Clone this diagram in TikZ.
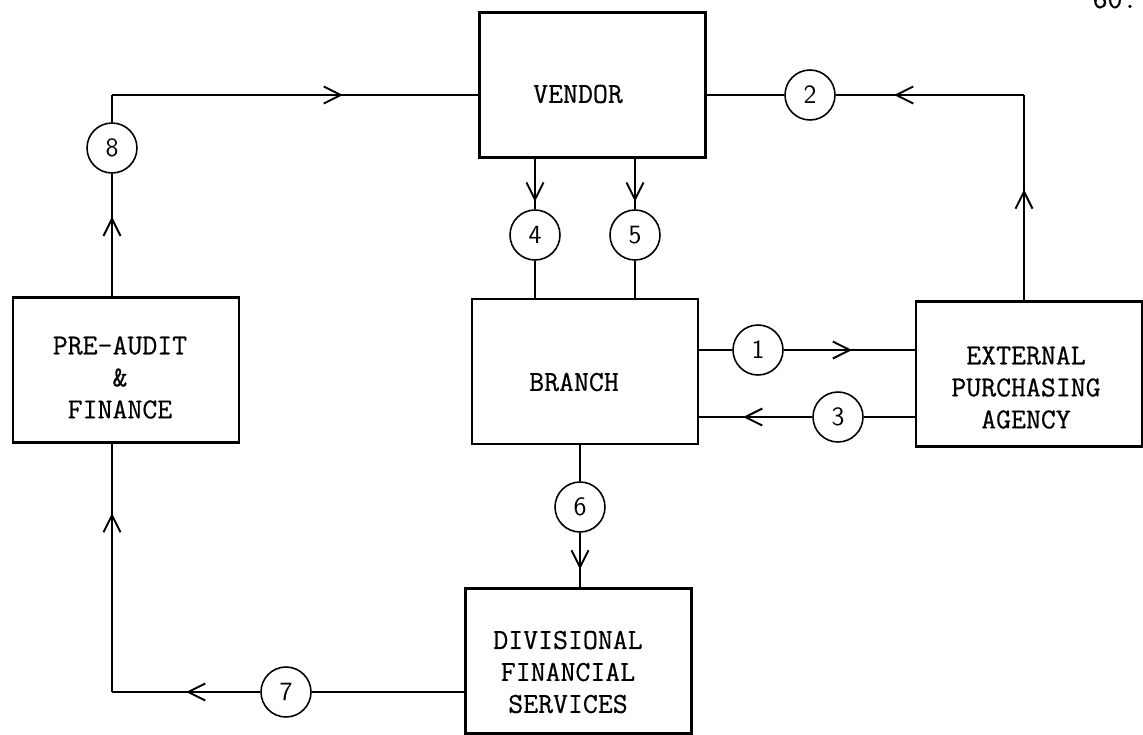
\documentclass[tikz,border=0pt]{standalone}
\usepackage{fontspec}
\usepackage{tikz}
\usetikzlibrary{arrows.meta,decorations.markings}
\newfontfamily\typewr{Latin Modern Mono}[FakeBold=0.6]
\newcommand{\boxfont}{\typewr\fontsize{16.5}{18.2}\selectfont}
\tikzset{
  blk/.style={draw=black, line width=1.2pt, minimum width=4.52cm,
    minimum height=2.9cm, inner sep=0pt}}

\begin{document}
\begin{tikzpicture}[x=0.02cm, y=-0.02cm,
      num/.style={circle, draw=black, line width=0.9pt, minimum size=1cm,
        inner sep=0pt, font=\sffamily\fontsize{15}{18}\selectfont},
      lbl/.style={font=\boxfont, align=center, inner sep=0pt},
      flow/.style={line width=1.1pt, black},
      midtip/.style={postaction={decorate, decoration={markings,
        mark=at position #1 with {\arrow{Straight Barb[length=3.4mm, width=3.4mm]}}}}}]
      \useasboundingbox (0,0) rectangle (1143,734);
      \node[blk] (vendor) at (592.5, 85) {};
      \node[blk] (branch) at (585, 371.5) {};
      \node[blk] (preaudit) at (126, 370) {};
      \node[blk] (epa) at (1029, 374) {};
      \node[blk] (dfs) at (578.5, 661) {};
      \node[lbl] (vendor-txt) at (578, 94) {VENDOR};
      \node[lbl] (branch-txt) at (574, 382) {BRANCH};
      \node[lbl] (preaudit-txt) at (120, 377.5) {PRE-AUDIT\\ \&\\ FINANCE};
      \node[lbl] (epa-txt) at (1026, 387.5) {EXTERNAL\\ PURCHASING\\ AGENCY};
      \node[lbl] (dfs-txt) at (568, 672) {DIVISIONAL\\ FINANCIAL\\ SERVICES};
      \node[lbl, anchor=base] (pagenum) at (1115, 8) {60.};
      \node[num] (c1) at (758, 350) {1};
      \node[num] (c2) at (810, 95) {2};
      \node[num] (c3) at (838, 417) {3};
      \node[num] (c4) at (535, 235) {4};
      \node[num] (c5) at (635, 235) {5};
      \node[num] (c6) at (580, 507) {6};
      \node[num] (c7) at (286, 692) {7};
      \node[num] (c8) at (112, 148) {8};
      \coordinate (tl) at (112, 95);
      \coordinate (tr) at (1024, 95);
      \coordinate (bl) at (112, 692);
      \draw[flow] (c1 -| branch.east) -- (c1);
      \draw[flow, midtip=0.52] (c1) -- (c1 -| epa.west);
      \draw[flow] (c3 -| epa.west) -- (c3);
      \draw[flow, midtip=0.61] (c3) -- (c3 -| branch.east);
      \draw[flow, midtip=0.54] (tr |- epa.north) -- (tr);
      \draw[flow, midtip=0.69] (tr) -- (c2);
      \draw[flow] (c2) -- (c2 -| vendor.east);
      \draw[flow, midtip=0.85] (c4 |- vendor.south) -- (c4);
      \draw[flow] (c4) -- (c4 |- branch.north);
      \draw[flow, midtip=0.85] (c5 |- vendor.south) -- (c5);
      \draw[flow] (c5) -- (c5 |- branch.north);
      \draw[flow] (c6 |- branch.south) -- (c6);
      \draw[flow, midtip=0.67] (c6) -- (c6 |- dfs.north);
      \draw[flow] (c7 -| dfs.west) -- (c7);
      \draw[flow, midtip=0.5] (c7) -- (bl);
      \draw[flow, midtip=0.72] (bl) -- (bl |- preaudit.south);
      \draw[flow, midtip=0.65] (tl |- preaudit.north) -- (c8);
      \draw[flow] (c8) -- (tl);
      \draw[flow, midtip=0.63] (tl) -- (tl -| vendor.west);
    \end{tikzpicture}
\end{document}
